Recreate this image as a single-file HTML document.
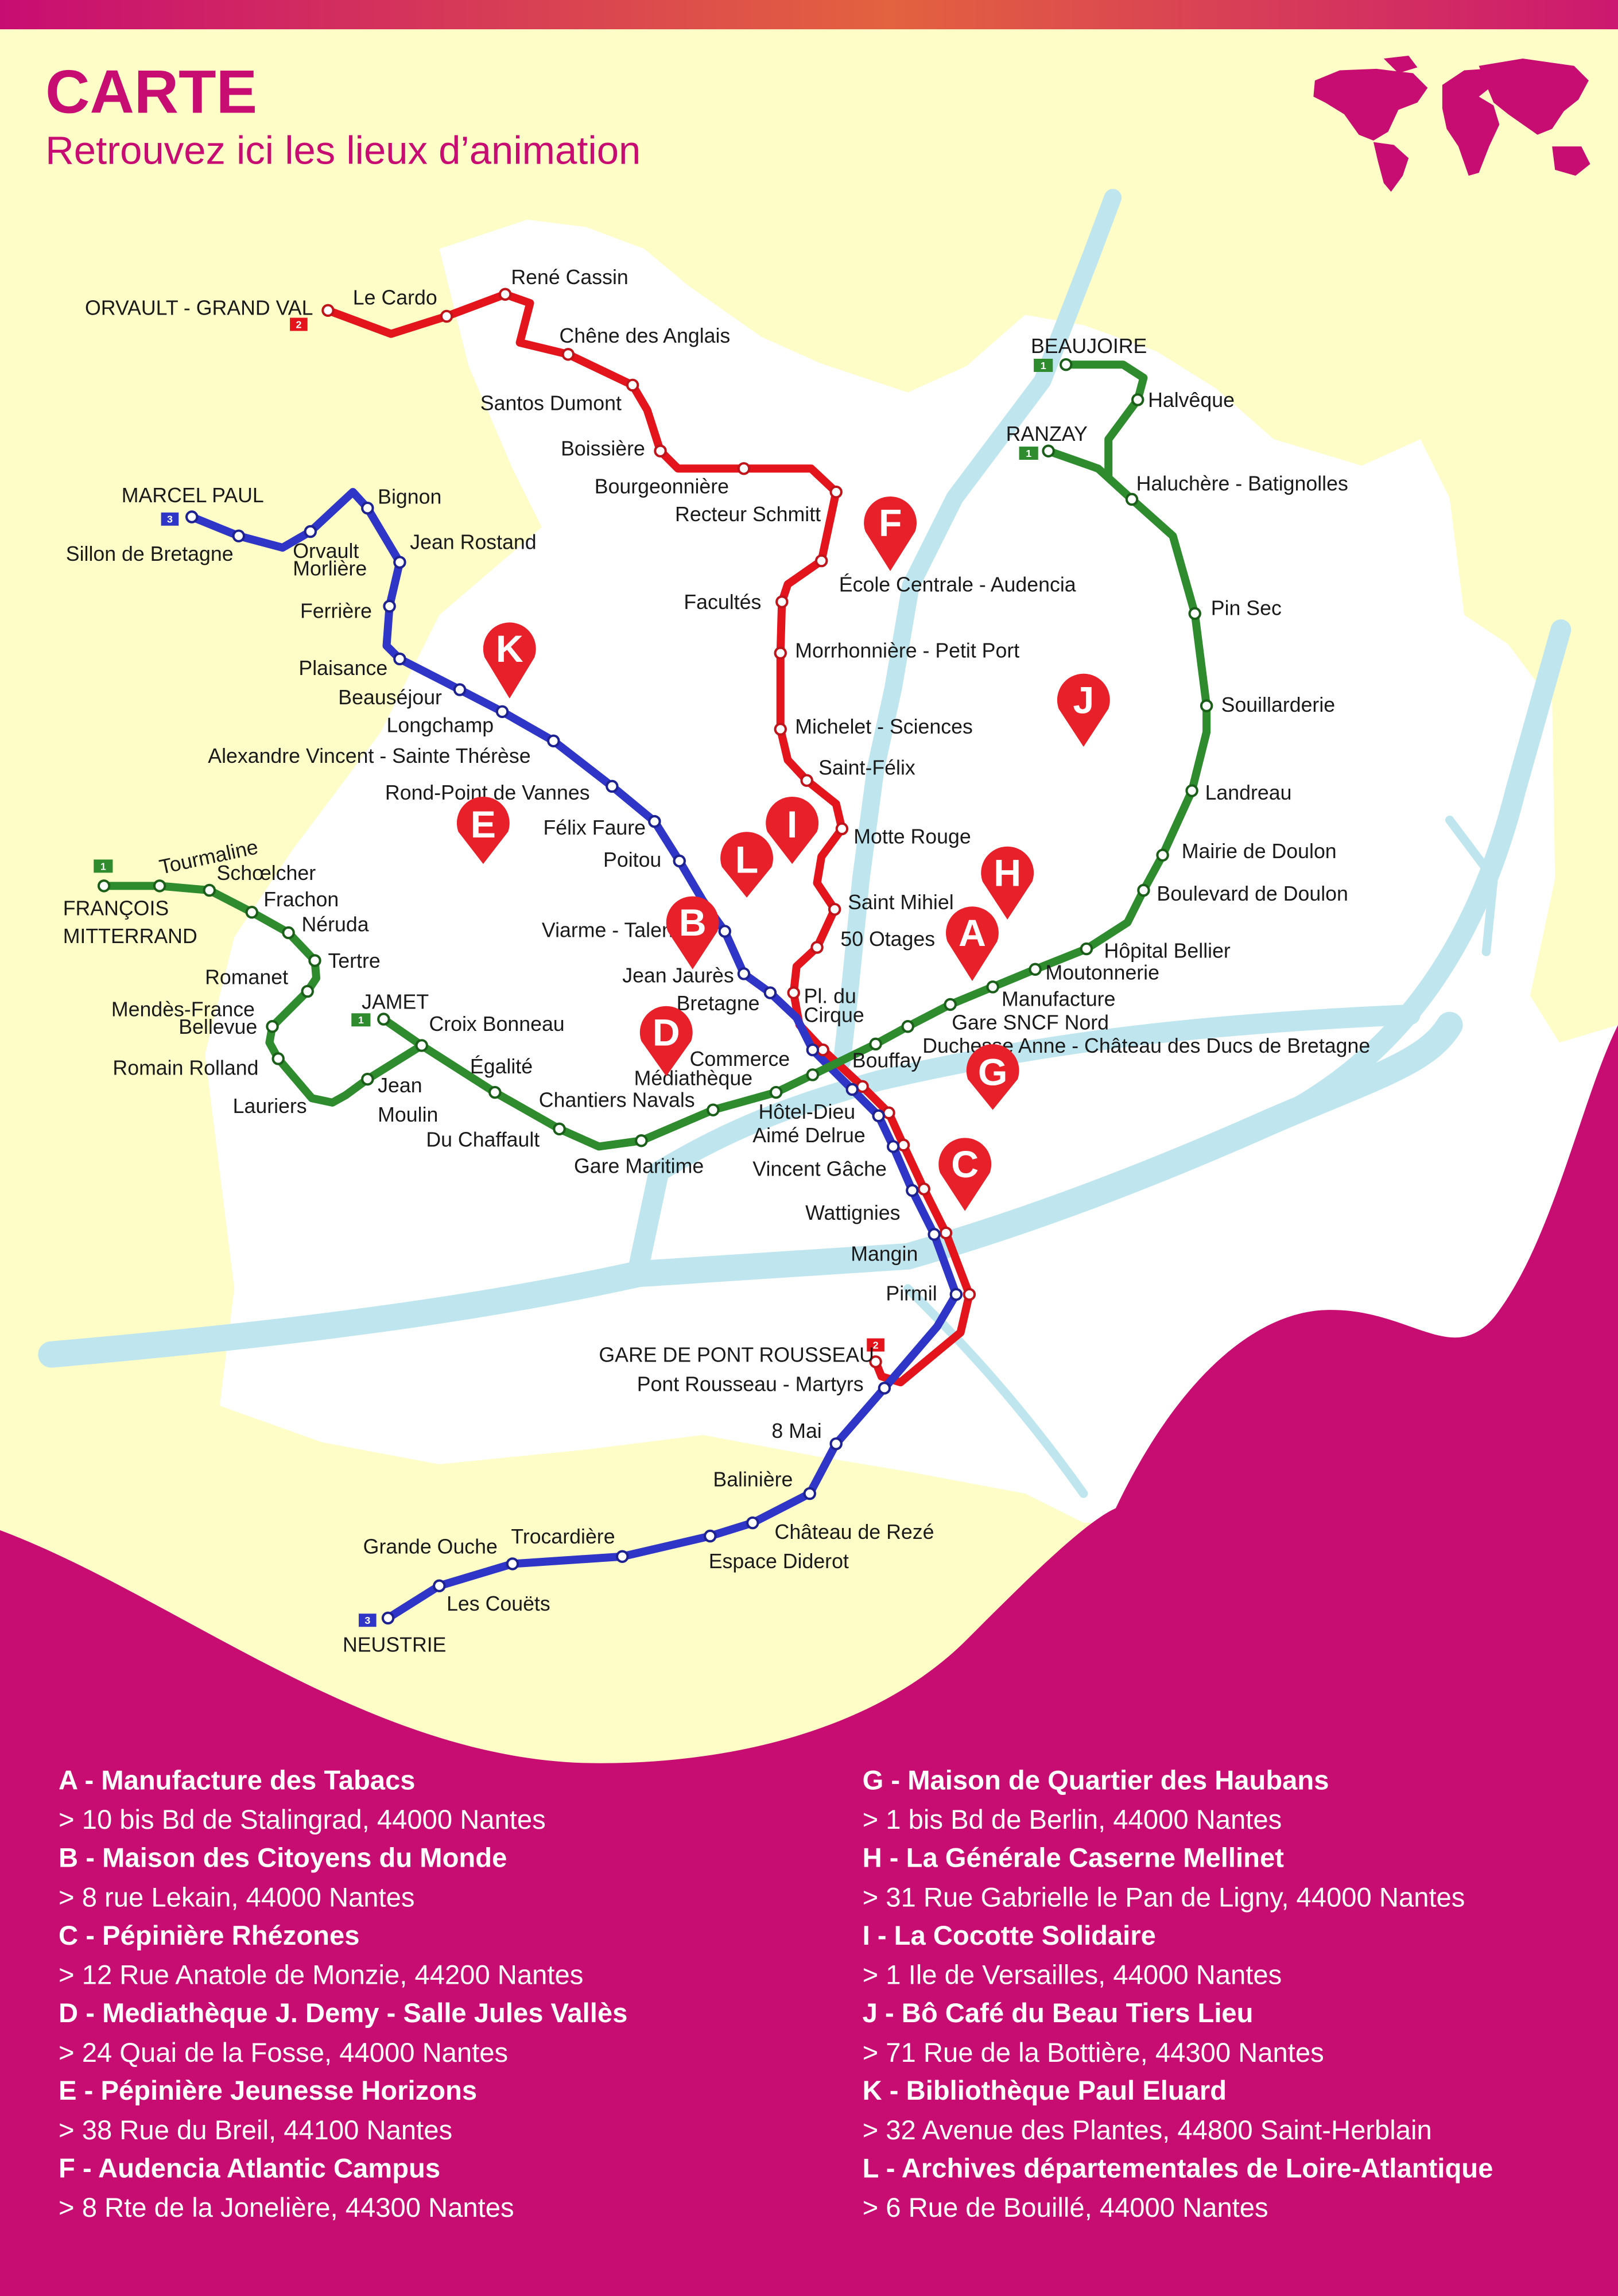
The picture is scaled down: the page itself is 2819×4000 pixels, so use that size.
<!DOCTYPE html>
<html><head><meta charset="utf-8">
<style>
html,body{margin:0;padding:0;background:#fefdc8;}
svg{display:block;}
.s{font-family:"Liberation Sans Narrow","Liberation Sans",sans-serif;font-size:14px;fill:#1a1a1a;}
.p{font-family:"Liberation Sans",sans-serif;font-size:26px;font-weight:bold;fill:#fff;text-anchor:middle;}
.lt{font-family:"Liberation Sans",sans-serif;font-size:18.5px;font-weight:bold;fill:#fff;}
.la{font-family:"Liberation Sans",sans-serif;font-size:18.5px;fill:#fff;}
.b{font-family:"Liberation Sans",sans-serif;font-size:7px;fill:#fff;text-anchor:middle;font-weight:bold;}
</style></head><body>
<svg width="2819" height="4000" viewBox="0 0 1105 1568" preserveAspectRatio="none" xmlns="http://www.w3.org/2000/svg">
<defs>
<linearGradient id="tg" x1="0" x2="1" y1="0" y2="0">
<stop offset="0" stop-color="#c80d72"/><stop offset="0.55" stop-color="#e3623f"/><stop offset="1" stop-color="#cc1870"/>
</linearGradient>
</defs>
<rect width="1105" height="1568" fill="#fefdc8"/>
<rect width="1105" height="20" fill="url(#tg)"/>
<text x="31" y="77" font-family="Liberation Sans,sans-serif" font-size="42" font-weight="bold" fill="#c80d72">CARTE</text>
<text x="31" y="112" font-family="Liberation Sans,sans-serif" font-size="27" fill="#c80d72">Retrouvez ici les lieux d’animation</text>
<g fill="#c80d72">
<path d="M898,55 L915,48 L940,47 L965,50 L975,60 L968,70 L955,75 L948,90 L938,96 L928,92 L918,78 L905,70 L897,66 Z"/>
<path d="M938,97 L952,99 L962,108 L958,120 L950,131 L945,125 L941,110 Z"/>
<path d="M945,40 L962,38 L968,46 L955,50 Z"/>
<path d="M985,58 L1000,48 L1015,47 L1020,58 L1010,66 L1020,72 L1024,85 L1017,100 L1010,118 L1003,120 L996,100 L988,88 L985,74 Z"/>
<path d="M1010,45 L1040,40 L1075,45 L1085,55 L1078,68 L1068,76 L1060,88 L1050,92 L1040,85 L1030,78 L1020,70 L1015,58 Z"/>
<path d="M1060,100 L1080,100 L1086,112 L1076,120 L1062,116 Z"/>
</g>
<path d="M300,170 L360,150 L400,155 L440,170 L470,195 L520,230 L560,248 L620,268 L660,250 L700,215 L740,222 L790,240 L830,265 L870,300 L930,318 L970,300 L990,340 L1000,420 L1030,440 L1060,480 L1062,600 L1045,680 L1065,712 L1105,700 L1105,1030 L740,1040 L700,1020 L620,1005 L560,995 L480,980 L400,990 L300,1000 L220,985 L150,960 L160,880 L150,800 L140,720 L160,640 L200,580 L260,500 L300,420 L370,360 L350,320 L320,250 Z" fill="#ffffff"/>
<g fill="none" stroke="#bfe6ef" stroke-linecap="round" stroke-linejoin="round">
<path d="M35,925 C150,915 300,900 436,870 L620,858 C700,835 780,805 870,765 C940,735 975,725 990,700" stroke-width="18"/>
<path d="M436,866 L450,800 C500,770 540,755 600,738 C700,715 800,700 963,693" stroke-width="14"/>
<path d="M870,765 C960,720 1010,640 1035,540 L1066,430" stroke-width="14"/>
<path d="M760,135 L745,175 L712,260 L652,340 L622,400 L610,470 L598,525 L588,600 L580,680 L575,725" stroke-width="12"/>
<path d="M620,880 C650,910 690,950 740,1020" stroke-width="6"/>
<path d="M990,560 L1020,600 L1015,650" stroke-width="6"/>
</g>
<path d="M0,1045 C120,1090 250,1200 400,1204 C500,1206 600,1180 660,1120 C700,1080 740,1040 762,1030 C800,950 850,900 900,895 C960,890 990,935 1020,900 C1060,850 1080,750 1105,700 L1105,1568 L0,1568 Z" fill="#c80d72"/>
<g fill="none" stroke-linejoin="round" stroke-linecap="round" stroke-width="5.5">
<polyline stroke="#e3141b" points="224,212 267,228 305,216 345,201 362,207 355,234 388,242 432,263 442,280 451,308 463,320 508,320 554,320 571,336 561,383 538,399 534,411 533,446 533,498 538,519 551,533 571,549 575,566 561,585 558,603 570,621 558,647 544,660 542,678 546,700 562,717 589,742 607,760 617,782 631,812 646,842 662,884 656,910 615,944 602,940 598,930"/>
<polyline stroke="#2f35c6" points="131,353 163,366 193,374 212,363 241,336 251,347 273,384 266,414 264,441 273,450 314,471 343,486 378,506 418,537 447,561 464,588 480,615 495,636 508,665 526,678 544,695 555,717 582,744 600,762 610,783 623,813 638,843 653,884 640,906 604,948 571,986 553,1020 514,1040 485,1049 425,1063 350,1068 300,1083 265,1105"/>
<polyline stroke="#2e8b2e" points="71,605 109,605 143,608 172,623 197,637 215,656 216,668 210,677 186,701 184,712 190,723 213,750 227,753 236,748 251,737 288,714 338,746 382,771 409,783 438,779 487,758 530,746 555,734 598,713 620,701 649,686 678,674 707,662 742,648 770,630 781,608 794,584 814,540 824,500 824,482 816,419 801,366 773,341 750,320 716,308"/>
<polyline stroke="#2e8b2e" points="757,325 757,300 777,273 781,258 767,249 728,249"/>
<polyline stroke="#2e8b2e" points="262,696 288,714"/>
</g>
<g fill="#fff" stroke-width="1.6">
<g stroke="#c0141b">
<circle cx="224" cy="212" r="3.6"/><circle cx="305" cy="216" r="3.6"/><circle cx="345" cy="201" r="3.6"/><circle cx="388" cy="242" r="3.6"/><circle cx="432" cy="263" r="3.6"/><circle cx="451" cy="308" r="3.6"/><circle cx="508" cy="320" r="3.6"/><circle cx="571" cy="336" r="3.6"/><circle cx="561" cy="383" r="3.6"/><circle cx="534" cy="411" r="3.6"/><circle cx="533" cy="446" r="3.6"/><circle cx="533" cy="498" r="3.6"/><circle cx="551" cy="533" r="3.6"/><circle cx="575" cy="566" r="3.6"/><circle cx="570" cy="621" r="3.6"/><circle cx="558" cy="647" r="3.6"/><circle cx="542" cy="678" r="3.6"/><circle cx="562" cy="717" r="3.6"/><circle cx="589" cy="742" r="3.6"/><circle cx="607" cy="760" r="3.6"/><circle cx="617" cy="782" r="3.6"/><circle cx="631" cy="812" r="3.6"/><circle cx="646" cy="842" r="3.6"/><circle cx="662" cy="884" r="3.6"/><circle cx="598" cy="930" r="3.6"/>
</g>
<g stroke="#1d2290">
<circle cx="131" cy="353" r="3.6"/><circle cx="163" cy="366" r="3.6"/><circle cx="212" cy="363" r="3.6"/><circle cx="251" cy="347" r="3.6"/><circle cx="273" cy="384" r="3.6"/><circle cx="266" cy="414" r="3.6"/><circle cx="273" cy="450" r="3.6"/><circle cx="314" cy="471" r="3.6"/><circle cx="343" cy="486" r="3.6"/><circle cx="378" cy="506" r="3.6"/><circle cx="418" cy="537" r="3.6"/><circle cx="447" cy="561" r="3.6"/><circle cx="464" cy="588" r="3.6"/><circle cx="495" cy="636" r="3.6"/><circle cx="508" cy="665" r="3.6"/><circle cx="526" cy="678" r="3.6"/><circle cx="555" cy="717" r="3.6"/><circle cx="582" cy="744" r="3.6"/><circle cx="600" cy="762" r="3.6"/><circle cx="610" cy="783" r="3.6"/><circle cx="623" cy="813" r="3.6"/><circle cx="638" cy="843" r="3.6"/><circle cx="653" cy="884" r="3.6"/><circle cx="604" cy="948" r="3.6"/><circle cx="571" cy="986" r="3.6"/><circle cx="553" cy="1020" r="3.6"/><circle cx="514" cy="1040" r="3.6"/><circle cx="485" cy="1049" r="3.6"/><circle cx="425" cy="1063" r="3.6"/><circle cx="350" cy="1068" r="3.6"/><circle cx="300" cy="1083" r="3.6"/><circle cx="265" cy="1105" r="3.6"/>
</g>
<g stroke="#1a5e1a">
<circle cx="71" cy="605" r="3.6"/><circle cx="109" cy="605" r="3.6"/><circle cx="143" cy="608" r="3.6"/><circle cx="172" cy="623" r="3.6"/><circle cx="197" cy="637" r="3.6"/><circle cx="215" cy="656" r="3.6"/><circle cx="210" cy="677" r="3.6"/><circle cx="186" cy="701" r="3.6"/><circle cx="190" cy="723" r="3.6"/><circle cx="251" cy="737" r="3.6"/><circle cx="262" cy="696" r="3.6"/><circle cx="288" cy="714" r="3.6"/><circle cx="338" cy="746" r="3.6"/><circle cx="382" cy="771" r="3.6"/><circle cx="438" cy="779" r="3.6"/><circle cx="487" cy="758" r="3.6"/><circle cx="530" cy="746" r="3.6"/><circle cx="555" cy="734" r="3.6"/><circle cx="598" cy="713" r="3.6"/><circle cx="620" cy="701" r="3.6"/><circle cx="649" cy="686" r="3.6"/><circle cx="678" cy="674" r="3.6"/><circle cx="707" cy="662" r="3.6"/><circle cx="742" cy="648" r="3.6"/><circle cx="781" cy="608" r="3.6"/><circle cx="794" cy="584" r="3.6"/><circle cx="814" cy="540" r="3.6"/><circle cx="824" cy="482" r="3.6"/><circle cx="816" cy="419" r="3.6"/><circle cx="773" cy="341" r="3.6"/><circle cx="716" cy="308" r="3.6"/><circle cx="777" cy="273" r="3.6"/><circle cx="728" cy="249" r="3.6"/>
</g>
</g>
<rect x="198" y="217" width="12" height="9" fill="#e3141b"/><text class="b" x="204" y="224">2</text>
<rect x="592" y="914" width="12" height="9" fill="#e3141b"/><text class="b" x="598" y="921">2</text>
<rect x="64" y="587" width="13" height="9" fill="#2e8b2e"/><text class="b" x="70.5" y="594">1</text>
<rect x="240" y="692" width="13" height="9" fill="#2e8b2e"/><text class="b" x="246.5" y="699">1</text>
<rect x="696" y="305" width="13" height="9" fill="#2e8b2e"/><text class="b" x="702.5" y="312">1</text>
<rect x="706" y="245" width="13" height="9" fill="#2e8b2e"/><text class="b" x="712.5" y="252">1</text>
<rect x="110" y="350" width="12" height="9" fill="#2f35c6"/><text class="b" x="116" y="357">3</text>
<rect x="245" y="1102" width="12" height="9" fill="#2f35c6"/><text class="b" x="251" y="1109">3</text>
<g class="s">
<text x="58" y="215">ORVAULT - GRAND VAL</text>
<text x="241" y="208">Le Cardo</text>
<text x="349" y="194">René Cassin</text>
<text x="382" y="234">Chêne des Anglais</text>
<text x="328" y="280">Santos Dumont</text>
<text x="383" y="311">Boissière</text>
<text x="406" y="337">Bourgeonnière</text>
<text x="461" y="356">Recteur Schmitt</text>
<text x="467" y="416">Facultés</text>
<text x="543" y="449">Morrhonnière - Petit Port</text>
<text x="543" y="501">Michelet - Sciences</text>
<text x="559" y="529">Saint-Félix</text>
<text x="583" y="576">Motte Rouge</text>
<text x="579" y="621">Saint Mihiel</text>
<text x="574" y="646">50 Otages</text>
<text x="549" y="685">Pl. du</text><text x="549" y="698">Cirque</text>
<text x="573" y="404">École Centrale - Audencia</text>
<text x="704" y="241">BEAUJOIRE</text>
<text x="784" y="278">Halvêque</text>
<text x="687" y="301">RANZAY</text>
<text x="776" y="335">Haluchère - Batignolles</text>
<text x="827" y="420">Pin Sec</text>
<text x="834" y="486">Souillarderie</text>
<text x="823" y="546">Landreau</text>
<text x="807" y="586">Mairie de Doulon</text>
<text x="790" y="615">Boulevard de Doulon</text>
<text x="754" y="654">Hôpital Bellier</text>
<text x="714" y="669">Moutonnerie</text>
<text x="684" y="687">Manufacture</text>
<text x="650" y="703">Gare SNCF Nord</text>
<text x="630" y="719">Duchesse Anne - Château des Ducs de Bretagne</text>
<text x="582" y="729">Bouffay</text>
<text x="518" y="764">Hôtel-Dieu</text>
<text x="514" y="780">Aimé Delrue</text>
<text x="514" y="803">Vincent Gâche</text>
<text x="550" y="833">Wattignies</text>
<text x="581" y="861">Mangin</text>
<text x="605" y="888">Pirmil</text>
<text x="409" y="930">GARE DE PONT ROUSSEAU</text>
<text x="435" y="950">Pont Rousseau - Martyrs</text>
<text x="527" y="982">8 Mai</text>
<text x="487" y="1015">Balinière</text>
<text x="529" y="1051">Château de Rezé</text>
<text x="484" y="1071">Espace Diderot</text>
<text x="349" y="1054">Trocardière</text>
<text x="248" y="1061">Grande Ouche</text>
<text x="305" y="1100">Les Couëts</text>
<text x="234" y="1128">NEUSTRIE</text>
<text x="83" y="343">MARCEL PAUL</text>
<text x="45" y="383">Sillon de Bretagne</text>
<text x="200" y="381">Orvault</text><text x="200" y="393">Morlière</text>
<text x="258" y="344">Bignon</text>
<text x="280" y="375">Jean Rostand</text>
<text x="205" y="422">Ferrière</text>
<text x="204" y="461">Plaisance</text>
<text x="231" y="481">Beauséjour</text>
<text x="264" y="500">Longchamp</text>
<text x="142" y="521">Alexandre Vincent - Sainte Thérèse</text>
<text x="263" y="546">Rond-Point de Vannes</text>
<text x="371" y="570">Félix Faure</text>
<text x="412" y="592">Poitou</text>
<text x="370" y="640">Viarme - Talensac</text>
<text x="425" y="671">Jean Jaurès</text>
<text x="462" y="690">Bretagne</text>
<text x="471" y="728">Commerce</text>
<text x="433" y="741">Médiathèque</text>
<text x="368" y="756">Chantiers Navals</text>
<text x="392" y="801">Gare Maritime</text>
<text x="291" y="783">Du Chaffault</text>
<text x="321" y="733">Égalité</text>
<text x="293" y="704">Croix Bonneau</text>
<text x="247" y="689">JAMET</text>
<text x="258" y="746">Jean</text><text x="258" y="766">Moulin</text>
<text x="159" y="760">Lauriers</text>
<text x="77" y="734">Romain Rolland</text>
<text x="76" y="694">Mendès-France</text><text x="122" y="706">Bellevue</text>
<text x="140" y="672">Romanet</text>
<text x="224" y="661">Tertre</text>
<text x="206" y="636">Néruda</text>
<text x="180" y="619">Frachon</text>
<text x="148" y="601">Schœlcher</text>
<text x="110" y="597" transform="rotate(-12 110 597)">Tourmaline</text>
<text x="43" y="625">FRANÇOIS</text><text x="43" y="644">MITTERRAND</text>
</g>
<g fill="#e8202a">
<path d="M591,363 A18,18 0 1 1 625,363 L608,390 Z"/>
<path d="M331,449 A18,18 0 1 1 365,449 L348,477 Z"/>
<path d="M723,484 A18,18 0 1 1 757,484 L740,510 Z"/>
<path d="M313,568 A18,18 0 1 1 347,568 L330,590 Z"/>
<path d="M524,568 A18,18 0 1 1 558,568 L541,590 Z"/>
<path d="M493,592 A18,18 0 1 1 527,592 L510,613 Z"/>
<path d="M671,602 A18,18 0 1 1 705,602 L688,628 Z"/>
<path d="M456,636 A18,18 0 1 1 490,636 L473,662 Z"/>
<path d="M647,643 A18,18 0 1 1 681,643 L664,670 Z"/>
<path d="M438,711 A18,18 0 1 1 472,711 L455,735 Z"/>
<path d="M661,737 A18,18 0 1 1 695,737 L678,758 Z"/>
<path d="M642,801 A18,18 0 1 1 676,801 L659,827 Z"/>
</g>
<g class="p">
<text x="608" y="366">F</text><text x="348" y="452">K</text><text x="740" y="487">J</text><text x="330" y="572">E</text><text x="541" y="572">I</text><text x="510" y="596">L</text><text x="688" y="605">H</text><text x="473" y="639">B</text><text x="664" y="646">A</text><text x="455" y="714">D</text><text x="678" y="741">G</text><text x="659" y="804">C</text>
</g>
<g>
<text class="lt" x="40" y="1222">A - Manufacture des Tabacs</text>
<text class="la" x="40" y="1249">&gt;  10 bis Bd de Stalingrad, 44000 Nantes</text>
<text class="lt" x="40" y="1275">B - Maison des Citoyens du Monde</text>
<text class="la" x="40" y="1302">&gt; 8 rue Lekain, 44000 Nantes</text>
<text class="lt" x="40" y="1328">C - Pépinière Rhézones</text>
<text class="la" x="40" y="1355">&gt; 12 Rue Anatole de Monzie, 44200 Nantes</text>
<text class="lt" x="40" y="1381">D - Mediathèque J. Demy - Salle Jules Vallès</text>
<text class="la" x="40" y="1408">&gt; 24 Quai de la Fosse, 44000 Nantes</text>
<text class="lt" x="40" y="1434">E - Pépinière Jeunesse Horizons</text>
<text class="la" x="40" y="1461">&gt; 38 Rue du Breil, 44100 Nantes</text>
<text class="lt" x="40" y="1487">F - Audencia Atlantic Campus</text>
<text class="la" x="40" y="1514">&gt; 8 Rte de la Jonelière, 44300 Nantes</text>
<text class="lt" x="589" y="1222">G - Maison de Quartier des Haubans</text>
<text class="la" x="589" y="1249">&gt; 1 bis Bd de Berlin, 44000 Nantes</text>
<text class="lt" x="589" y="1275">H - La Générale Caserne Mellinet</text>
<text class="la" x="589" y="1302">&gt; 31 Rue Gabrielle le Pan de Ligny, 44000 Nantes</text>
<text class="lt" x="589" y="1328">I - La Cocotte Solidaire</text>
<text class="la" x="589" y="1355">&gt; 1 Ile de Versailles, 44000 Nantes</text>
<text class="lt" x="589" y="1381">J - Bô Café du Beau Tiers Lieu</text>
<text class="la" x="589" y="1408">&gt; 71 Rue de la Bottière, 44300 Nantes</text>
<text class="lt" x="589" y="1434">K - Bibliothèque Paul Eluard</text>
<text class="la" x="589" y="1461">&gt; 32 Avenue des Plantes, 44800 Saint-Herblain</text>
<text class="lt" x="589" y="1487">L - Archives départementales de Loire-Atlantique</text>
<text class="la" x="589" y="1514">&gt; 6 Rue de Bouillé, 44000 Nantes</text>
</g>
</svg>
</body></html>
